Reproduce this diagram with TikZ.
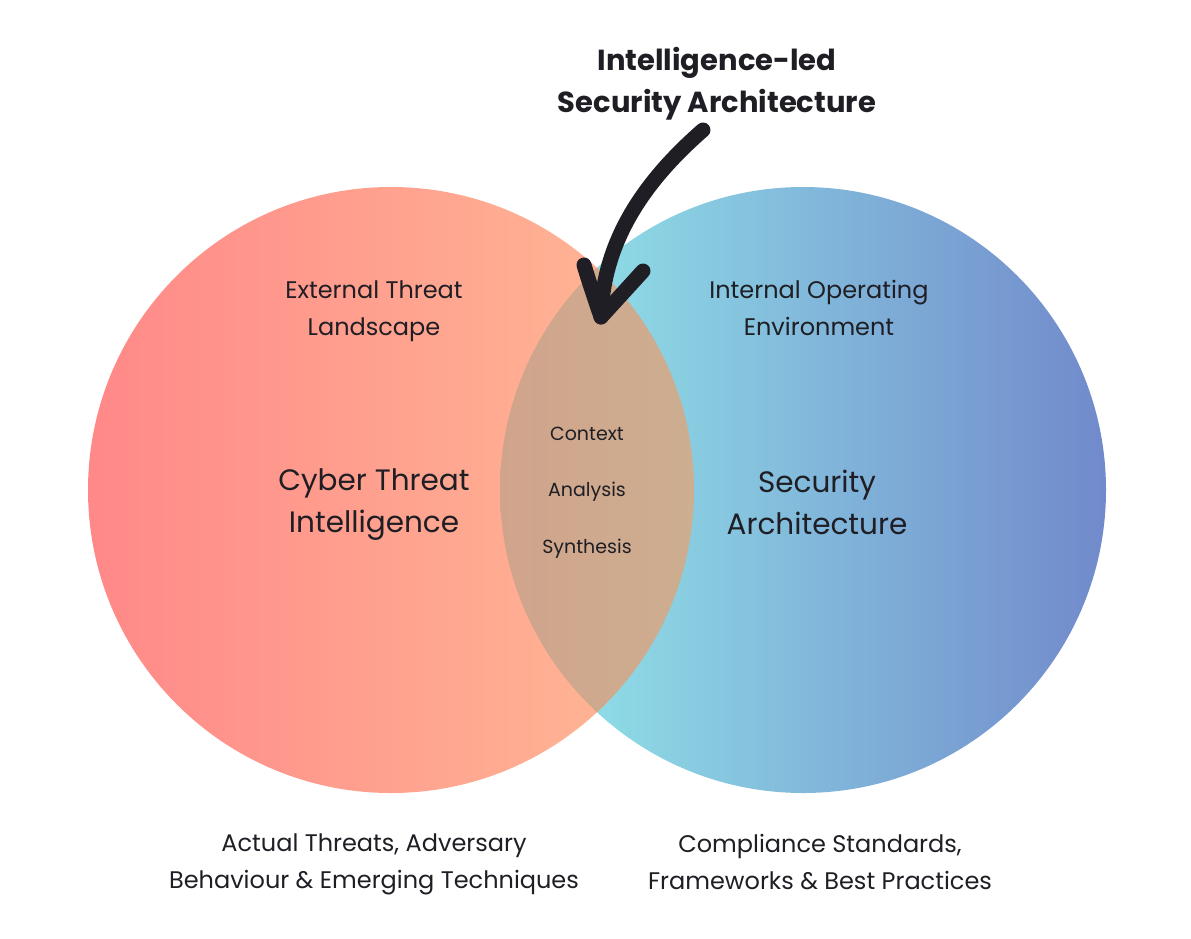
\documentclass[tikz,border=0pt]{standalone}
\usepackage{fontspec}
\setmainfont{Poppins}
\usetikzlibrary{shadings}
\definecolor{txt}{HTML}{1E1E24}
\definecolor{lA}{HTML}{FF8888}
\definecolor{lB}{HTML}{FFB494}
\definecolor{rA}{HTML}{8EDCE6}
\definecolor{rB}{HTML}{7189CB}
\definecolor{mA}{HTML}{D0A48C}
\definecolor{mB}{HTML}{CDAE90}
\tikzset{
  lbl/.style={text=txt, align=center, font=\fontsize{24}{37}\selectfont},
  big/.style={text=txt, align=center, font=\fontsize{29.5}{42}\selectfont},
  small/.style={text=txt, align=center, font=\fontsize{19}{20}\selectfont},
  ttl/.style={text=txt, align=center, font=\bfseries\fontsize{29}{42}\selectfont},
  pen/.style={draw=txt, line width=15, line cap=round, line join=round}
}
\begin{document}
\begin{tikzpicture}[x=1pt,y=-1pt]
\useasboundingbox (0,0) rectangle (1191,938);
% circles
\begin{scope}
  \clip (803,490) circle (303);
  \shade[left color=rA, right color=rB] (590,180) rectangle (1110,800);
\end{scope}
\begin{scope}
  \clip (391,490) circle (303);
  \shade[left color=lA, right color=lB] (85,180) rectangle (610,800);
\end{scope}
\begin{scope}
  \clip (391,490) circle (303);
  \clip (803,490) circle (303);
  \shade[left color=mA, right color=mB] (498,180) rectangle (696,800);
\end{scope}
% texts
\node[ttl] (title) at (717,84) {Intelligence-led\\Security Architecture};
\node[lbl] (ext) at (374,311) {External Threat\\Landscape};
\node[lbl] (int) at (819,308) {Internal Operating\\Environment};
\node[big] (cti) at (374,505) {Cyber Threat\\Intelligence};
\node[big] (sa) at (817,502) {Security\\Architecture};
\node[small] (ctx) at (587,434) {Context};
\node[small] (ana) at (587,492) {Analysis};
\node[small] (syn) at (587,549) {Synthesis};
\node[lbl] (botl) at (374,864) {Actual Threats, Adversary\\Behaviour \& Emerging Techniques};
\node[lbl] (botr) at (820,862) {Compliance Standards,\\Frameworks \& Best Practices};
% arrow
\coordinate (as) at (703,130);
\coordinate (tip) at (601,317);
\coordinate (la) at (584,265);
\coordinate (ra) at (643,271);
\draw[pen] (as) .. controls (648,178) and (603,238) .. (tip);
\draw[pen] (la) .. controls (590,285) and (597,305) .. (tip) -- (ra);
\end{tikzpicture}
\end{document}
